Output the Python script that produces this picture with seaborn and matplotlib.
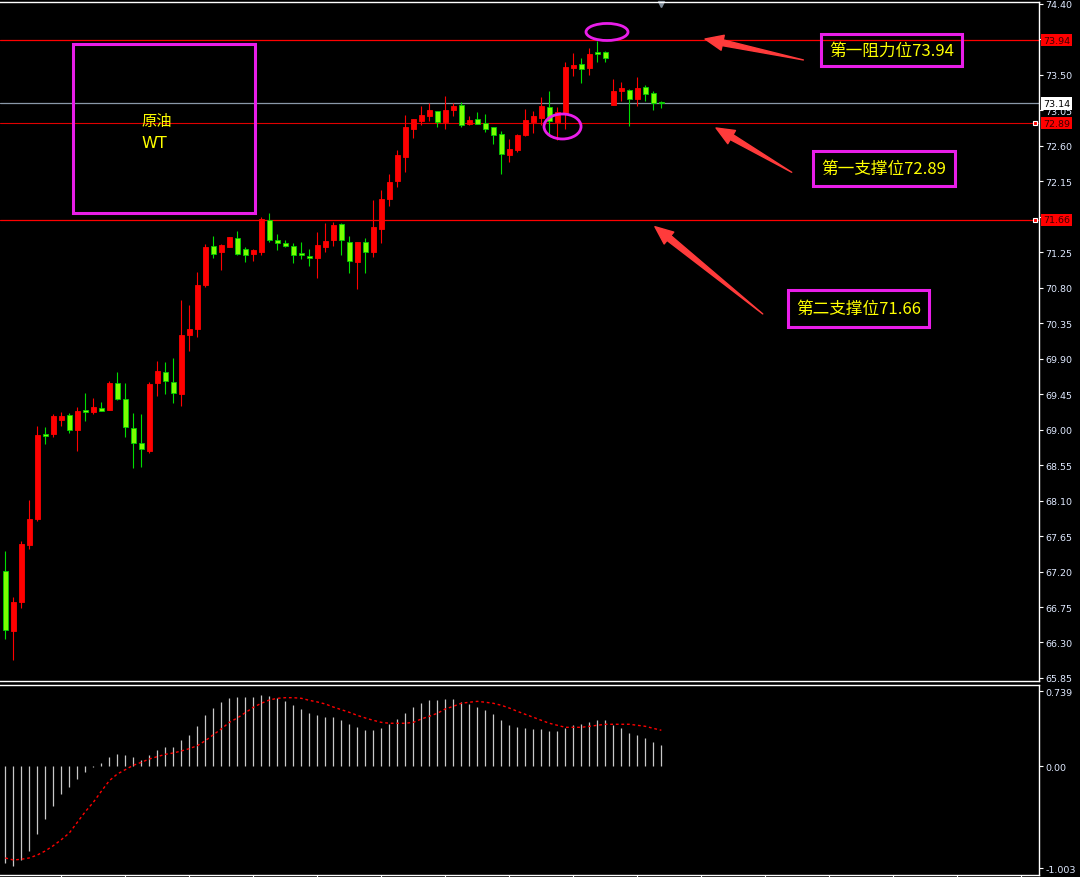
import numpy as np
import matplotlib
matplotlib.use("Agg")
import matplotlib.pyplot as plt
import matplotlib.transforms as mtransforms
from matplotlib.patches import Rectangle, Ellipse
import seaborn as sns

# candles, red = up, green = down
opens = [67.21, 66.45, 66.82, 67.54, 67.87, 68.95, 68.95, 69.12, 69.19, 69.00,
         69.24, 69.22, 69.27, 69.25, 69.59, 69.39, 69.02, 68.83, 68.73, 69.59,
         69.73, 69.61, 69.45, 70.20, 70.28, 70.84, 71.33, 71.25, 71.32, 71.43,
         71.29, 71.23, 71.26, 71.66, 71.41, 71.37, 71.33, 71.24, 71.20, 71.18,
         71.32, 71.40, 71.61, 71.38, 71.13, 71.38, 71.25, 71.55, 71.93, 72.15,
         72.46, 72.82, 72.92, 72.98, 73.04, 72.90, 73.06, 73.12, 72.88, 72.94,
         72.89, 72.84, 72.75, 72.48, 72.55, 72.74, 72.90, 72.95, 73.09, 72.90,
         73.02, 73.59, 73.64, 73.59, 73.78, 73.79, 73.12, 73.30, 73.31, 73.19,
         73.35, 73.27, 73.15]
highs = [67.46, 66.88, 67.59, 68.11, 69.05, 69.03, 69.20, 69.22, 69.21, 69.29,
         69.47, 69.40, 69.35, 69.62, 69.73, 69.59, 69.21, 69.20, 69.60, 69.87,
         69.86, 69.91, 70.65, 70.58, 71.00, 71.35, 71.46, 71.35, 71.45, 71.52,
         71.32, 71.29, 71.70, 71.75, 71.48, 71.41, 71.37, 71.38, 71.29, 71.51,
         71.62, 71.63, 71.62, 71.46, 71.38, 71.43, 71.91, 72.04, 72.24, 72.55,
         72.99, 72.94, 73.11, 73.14, 73.04, 73.23, 73.15, 73.16, 72.98, 73.03,
         73.00, 72.84, 72.79, 72.69, 72.75, 73.07, 73.04, 73.22, 73.30, 73.09,
         73.67, 73.78, 73.71, 73.84, 73.93, 73.80, 73.45, 73.41, 73.32, 73.47,
         73.37, 73.30, 73.17]
lows = [66.34, 66.08, 66.74, 67.49, 67.84, 68.82, 68.91, 69.05, 68.96, 68.73,
        69.11, 69.20, 69.24, 69.25, 69.38, 68.91, 68.51, 68.53, 68.70, 69.43,
        69.45, 69.34, 69.30, 70.00, 70.17, 70.81, 71.18, 71.02, 71.32, 71.22,
        71.13, 71.14, 71.22, 71.38, 71.28, 71.32, 71.12, 71.17, 71.08, 70.93,
        71.26, 71.33, 71.22, 70.99, 70.79, 70.99, 71.19, 71.37, 71.84, 72.08,
        72.27, 72.70, 72.87, 72.92, 72.84, 72.81, 72.98, 72.84, 72.87, 72.88,
        72.77, 72.62, 72.24, 72.40, 72.52, 72.72, 72.76, 72.86, 72.72, 72.68,
        72.81, 73.49, 73.40, 73.50, 73.67, 73.67, 73.12, 73.17, 72.85, 73.10,
        73.17, 73.06, 73.08]
closes = [66.46, 66.81, 67.55, 67.87, 68.93, 68.92, 69.17, 69.17, 68.99, 69.24,
          69.23, 69.29, 69.24, 69.59, 69.39, 69.03, 68.83, 68.75, 69.58, 69.74,
          69.62, 69.47, 70.20, 70.28, 70.84, 71.32, 71.23, 71.34, 71.44, 71.23,
          71.22, 71.28, 71.67, 71.41, 71.37, 71.33, 71.22, 71.21, 71.18, 71.34,
          71.39, 71.60, 71.40, 71.14, 71.38, 71.26, 71.57, 71.93, 72.14, 72.48,
          72.84, 72.94, 72.99, 73.06, 72.90, 73.06, 73.10, 72.86, 72.93, 72.88,
          72.82, 72.74, 72.50, 72.56, 72.74, 72.93, 72.98, 73.11, 72.92, 73.03,
          73.60, 73.63, 73.58, 73.77, 73.77, 73.71, 73.29, 73.33, 73.19, 73.33,
          73.26, 73.14, 73.14]

# MACD panel
macd_hist = [-0.956, -0.979, -0.923, -0.831, -0.667, -0.516, -0.388, -0.273, -0.201, -0.122,
             -0.053, -0.005, 0.033, 0.092, 0.121, 0.111, 0.089, 0.062, 0.111, 0.161,
             0.190, 0.190, 0.259, 0.308, 0.397, 0.505, 0.574, 0.634, 0.673, 0.683,
             0.683, 0.683, 0.702, 0.693, 0.673, 0.643, 0.604, 0.565, 0.525, 0.505,
             0.486, 0.486, 0.456, 0.417, 0.387, 0.358, 0.358, 0.377, 0.417, 0.466,
             0.525, 0.584, 0.623, 0.653, 0.653, 0.663, 0.663, 0.634, 0.614, 0.584,
             0.555, 0.515, 0.456, 0.407, 0.387, 0.377, 0.368, 0.368, 0.348, 0.348,
             0.377, 0.407, 0.417, 0.436, 0.456, 0.456, 0.407, 0.377, 0.328, 0.308,
             0.279, 0.239, 0.210]
macd_signal = [-0.903, -0.923, -0.916, -0.903, -0.874, -0.834, -0.782, -0.723, -0.657, -0.552,
               -0.447, -0.355, -0.246, -0.142, -0.076, -0.033, 0.010, 0.039, 0.072, 0.095,
               0.118, 0.131, 0.151, 0.174, 0.203, 0.252, 0.311, 0.368, 0.433, 0.476,
               0.528, 0.581, 0.621, 0.653, 0.670, 0.676, 0.676, 0.670, 0.650, 0.634,
               0.614, 0.584, 0.558, 0.532, 0.502, 0.476, 0.453, 0.433, 0.424, 0.424,
               0.424, 0.433, 0.466, 0.493, 0.522, 0.565, 0.591, 0.621, 0.631, 0.640,
               0.631, 0.621, 0.601, 0.574, 0.542, 0.512, 0.483, 0.453, 0.424, 0.404,
               0.384, 0.384, 0.384, 0.394, 0.404, 0.414, 0.414, 0.414, 0.414, 0.404,
               0.394, 0.374, 0.355]

# 73.95 and 71.70 sit under the level boxes, so their labels are blank
price_ticks = [74.40, 73.95, 73.50, 73.05, 72.60, 72.15, 71.70, 71.25, 70.80, 70.35,
               69.90, 69.45, 69.00, 68.55, 68.10, 67.65, 67.20, 66.75, 66.30, 65.85]
price_labels = ["74.40", "", "73.50", "73.05", "72.60", "72.15", "", "71.25", "70.80", "70.35",
                "69.90", "69.45", "69.00", "68.55", "68.10", "67.65", "67.20", "66.75", "66.30", "65.85"]
macd_ticks = [0.739, 0.0, -1.003]
macd_labels = ["0.739", "0.00", "-1.003"]

resistance = 73.94
support1 = 72.89
support2 = 71.66
last_price = 73.14

level_labels = ["第一阻力位73.94", "第一支撑位72.89", "第二支撑位71.66"]
title_lines = ["原油", "WT"]

sns.set_theme(style="dark", rc={
    "axes.facecolor": "black",
    "figure.facecolor": "black",
    "axes.grid": False,
})
plt.rcParams["font.family"] = ["DejaVu Sans", "Noto Sans CJK SC"]
cjk = ["Noto Sans CJK SC", "DejaVu Sans"]
magenta = "#e91ee9"
arrow_red = "#ff3b3b"

fig = plt.figure(figsize=(10.8, 8.78), dpi=100)
ax = fig.add_axes([0, 0.2227, 0.9618, 0.7739])
ax2 = fig.add_axes([0, 0.00228, 0.9618, 0.2164])

o = np.array(opens)
h = np.array(highs)
l = np.array(lows)
c = np.array(closes)
idx = np.arange(len(c))
up = c >= o

wick_col = np.where(up, "#ff0000", "#00dd00")
body_col = np.where(up, "#ff0000", "#7cff00")
edge_col = np.where(up, "#ff0000", "#00cc00")

ax.vlines(idx, l, h, colors=wick_col, lw=0.8, zorder=2)
body_h = np.maximum(np.abs(c - o), 0.018)
ax.bar(idx, body_h, bottom=np.minimum(o, c), width=0.62,
       color=body_col, edgecolor=edge_col, linewidth=0.6, zorder=3)

# level lines
ax.axhline(resistance, color="#ff0000", lw=0.9, zorder=1)
ax.axhline(support1, color="#e00000", lw=0.8, zorder=1)
ax.axhline(support2, color="#ff0000", lw=0.9, zorder=1)
ax.axhline(last_price, color="#8a98a8", lw=0.9, zorder=1)

ax.set_xlim(-0.6625, 129.175)
ax.set_ylim(65.8056, 74.4254)

ax.yaxis.tick_right()
ax.set_yticks(price_ticks)
ax.set_yticklabels(price_labels)
ax.set_xticks([])
ax.tick_params(axis="y", colors="white", labelcolor="#dfe9ff", length=3, width=0.8,
               direction="out", pad=2, labelsize=6.8)
for side in ["top", "right", "bottom"]:
    ax.spines[side].set_visible(True)
    ax.spines[side].set_color("white")
    ax.spines[side].set_linewidth(1)
ax.spines["left"].set_visible(False)

# price boxes on the scale
trans = mtransforms.blended_transform_factory(ax.transAxes, ax.transData)
for val, fc, tc in [(resistance, "#ff0000", "#3a0000"), (support1, "#ff0000", "#3a0000"),
                    (support2, "#ff0000", "#3a0000"), (last_price, "white", "black")]:
    ax.text(1.004, val, f"{val:.2f}", transform=trans, ha="left", va="center",
            fontsize=6.8, color=tc, zorder=6, clip_on=False,
            bbox=dict(boxstyle="square,pad=0.18", fc=fc, ec="none"))
for val in [support1, support2]:
    ax.plot([128.7], [val], marker="s", ms=3, mfc="#ff0000", mec="white", mew=0.8,
            clip_on=False, zorder=5)

# marker of last bar at top
trans_top = mtransforms.blended_transform_factory(ax.transData, ax.transAxes)
ax.plot([82], [0.997], marker="v", ms=5, color="#7f8c99", transform=trans_top, clip_on=False)

# title box
ax.add_patch(Rectangle((8.5, 71.749), 22.75, 73.893 - 71.749, fill=False,
                       ec=magenta, lw=2.2, zorder=4))
ax.text(16.96, 72.916, title_lines[0], color="#ffff00", fontsize=11, family=cjk,
        ha="left", va="center", zorder=5)
ax.text(16.96, 72.637, title_lines[1], color="#ffff00", fontsize=11.5,
        ha="left", va="center", zorder=5)

# level label boxes and tapered arrows
boxes = [(101.93, 73.613, 119.55, 74.023), (100.93, 72.087, 118.71, 72.539),
         (97.88, 70.299, 115.46, 70.772)]
arrows = [((87.46, 73.956), (99.76, 73.69)), ((88.84, 72.827), (98.3, 72.265)),
          ((81.2, 71.575), (94.68, 70.468))]
for text, (x0, y0, x1, y1), (head, tail) in zip(level_labels, boxes, arrows):
    ax.add_patch(Rectangle((x0, y0), x1 - x0, y1 - y0, fill=False, ec=magenta, lw=2.2, zorder=4))
    ax.text((x0 + x1) / 2, (y0 + y1) / 2, text, color="#ffff00", fontsize=12, family=cjk,
            ha="center", va="center", zorder=5)
    hx, hy = head
    tx, ty = tail
    base = (hx + 0.14 * (tx - hx), hy + 0.14 * (ty - hy))
    # shaft: wide next to the head, pointed at the tail
    ax.annotate("", xy=tail, xytext=base,
                arrowprops=dict(arrowstyle="wedge,tail_width=0.22", color=arrow_red,
                                shrinkA=0, shrinkB=0, mutation_scale=20), zorder=5)
    ax.annotate("", xy=head, xytext=base,
                arrowprops=dict(arrowstyle="simple,head_length=0.65,head_width=0.55,tail_width=0.2",
                                color=arrow_red, shrinkA=0, shrinkB=0, mutation_scale=20),
                zorder=5)

# circles
ax.add_patch(Ellipse((75.21, 74.045), 5.25, 0.216, fill=False, ec=magenta, lw=2, zorder=5))
ax.add_patch(Ellipse((69.65, 72.846), 4.63, 0.317, fill=False, ec=magenta, lw=2, zorder=5))

# MACD
ax2.vlines(idx, 0, macd_hist, colors="#c8c8c8", lw=0.9)
sns.lineplot(x=idx, y=macd_signal, ax=ax2, color="#ff0000", lw=1, linestyle=(0, (2, 2)))
ax2.set_xlim(-0.6625, 129.175)
ax2.set_ylim(-1.071, 0.801)
ax2.yaxis.tick_right()
ax2.set_yticks(macd_ticks)
ax2.set_yticklabels(macd_labels)
ax2.set_xticks(np.arange(7, 130, 8))
ax2.tick_params(axis="y", colors="white", labelcolor="#dfe9ff", length=3, width=0.8,
                direction="out", pad=2, labelsize=6.8)
ax2.tick_params(axis="x", colors="white", length=3, width=0.8, direction="out",
                labelbottom=False, bottom=True)
for side in ["top", "right", "bottom"]:
    ax2.spines[side].set_visible(True)
    ax2.spines[side].set_color("white")
    ax2.spines[side].set_linewidth(1)
ax2.spines["left"].set_visible(False)
ax2.grid(False)
ax.grid(False)

fig.savefig("out.png", dpi=100, facecolor="black")
